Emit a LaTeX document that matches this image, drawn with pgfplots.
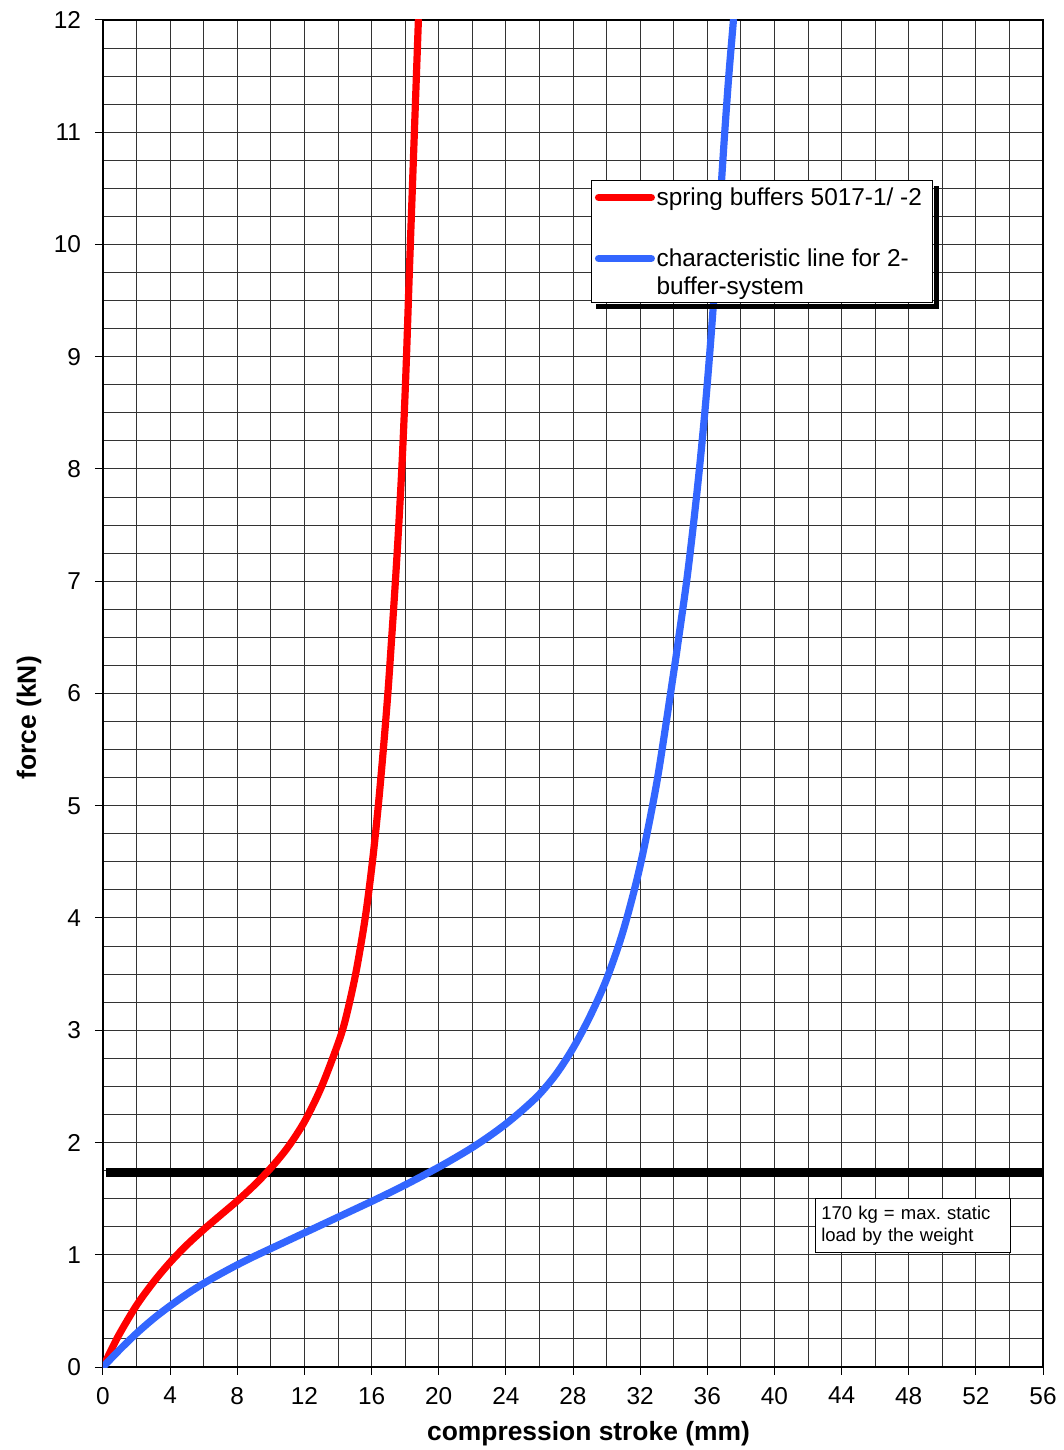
\documentclass[border=0pt]{standalone}
\usepackage{fontspec}
\setmainfont{Liberation Sans}
\usepackage{pgfplots}
\pgfplotsset{compat=1.18}
\definecolor{cred}{RGB}{255,0,0}
\definecolor{cblue}{RGB}{51,102,255}
\frenchspacing
\begin{document}
\begin{tikzpicture}
\begin{axis}[
  scale only axis,
  width=470pt, height=673.5pt,
  xmin=0, xmax=56, ymin=0, ymax=12,
  xtick={0,4,...,56}, ytick={0,1,...,12},
  minor x tick num=1, minor y tick num=3,
  grid=both,
  major grid style={black!80, line width=0.5pt},
  minor grid style={black!80, line width=0.5pt},
  axis line style={line width=1.1pt},
  tick align=outside,
  xtick pos=bottom, ytick pos=left,
  major tick length=4pt, minor tick length=0pt,
  tick style={black, line width=0.5pt},
  ticklabel style={font=\fontsize{12.2}{14}\selectfont},
  /pgf/number format/assume math mode=true,
  xticklabel style={yshift=-2.5pt},
  yticklabel style={xshift=-3.5pt},
  xlabel={compression stroke (mm)},
  ylabel={force (kN)},
  every axis x label/.style={at={(axis description cs:0.5165,-0.0542)}, anchor=base, font=\fontsize{13.2}{15}\selectfont\bfseries},
  every axis y label/.style={at={(axis description cs:-0.0713,0.482)}, anchor=base, rotate=90, font=\fontsize{13.2}{15}\selectfont\bfseries},
  legend style={name=leg, at={(rel axis cs:0.519,0.881)}, anchor=north west, draw=black, line width=0.5pt, fill=white,
    font=\fontsize{12.2}{14.6}\selectfont,
    inner xsep=1.8pt, inner ysep=0.5pt, row sep=17.5pt, column sep=0.8pt,
    nodes={inner sep=0pt, text depth=3.5pt}, cells={anchor=base west}},
  legend image code/.code={\draw[#1, line cap=round] (1.8pt,4.15pt) -- (28.2pt,4.15pt);},
]
\addplot[black, line width=4.5pt, forget plot] coordinates {(0.2,1.73) (56,1.73)};
\addplot[cred, line width=3.6pt, smooth, line cap=round] coordinates {
(0,0) (0.5,0.155) (1,0.30) (2,0.55) (3,0.755) (4,0.933) (5,1.088) (6,1.225) (7,1.353) (8,1.48)
(9,1.618) (10,1.773) (11,1.955) (12,2.185) (13,2.49) (14,2.88) (14.45,3.1) (15.05,3.5) (15.62,4.0)
(16.05,4.5) (16.4,5.0) (16.7,5.5) (16.97,6.0) (17.2,6.5) (17.42,7.0) (17.62,7.5) (17.8,8.0) (17.95,8.5)
(18.08,9.0) (18.25,9.75) (18.43,10.5) (18.61,11.25) (18.79,12.0)
};
\addlegendentry{spring buffers 5017-1/ -2\rule{0pt}{12pt}\rule{3.7pt}{0pt}}
\addplot[cblue, line width=3.6pt, smooth, line cap=round,
  legend image code/.code={\draw[cblue, line width=3.6pt, line cap=round] (1.8pt,18.15pt) -- (28.2pt,18.15pt);}] coordinates {
(0,0) (1,0.155) (2,0.30) (3,0.43) (4,0.545) (5,0.65) (6,0.745) (7,0.83) (8,0.91) (9,0.985) (10,1.055)
(11,1.125) (12,1.195) (13,1.265) (14,1.335) (15,1.405) (16,1.475) (17,1.547) (18,1.622) (19,1.70)
(20,1.78) (21,1.865) (22,1.955) (23,2.055) (24,2.165) (25,2.29) (26,2.43) (27,2.61) (28,2.84)
(29,3.12) (30,3.455) (31,3.89) (32,4.465) (33,5.215) (34,6.19) (34.3,6.5)
(34.77,7.0) (35.17,7.5) (35.53,8.0) (35.85,8.5) (36.13,9.0) (36.38,9.5) (36.6,10.0) (36.82,10.5)
(37.04,11.0) (37.28,11.5) (37.56,12.0)
};
\addlegendentry{\vbox{\baselineskip=14pt\lineskiplimit=-20pt\hbox{\rule{0pt}{9.5pt}characteristic line for 2-}\hbox{buffer-system}}}
\node[draw=black, line width=0.5pt, fill=white, anchor=north west, inner xsep=2.85pt, inner ysep=3.8pt,
  text width=92pt, align=left, font=\fontsize{9.25}{11}\selectfont] at (axis cs:42.42,1.508)
  {170 kg = max. static\\load by the weight};
\coordinate (sw) at (rel axis cs:0,0);
\coordinate (ne) at (rel axis cs:1,1);
\end{axis}
\fill[black] ([shift={(0.25pt,-2.75pt)}]leg.north east) rectangle ([shift={(3pt,-3pt)}]leg.south east);
\fill[black] ([shift={(2.75pt,-0.25pt)}]leg.south west) rectangle ([shift={(3pt,-3pt)}]leg.south east);
\pgfresetboundingbox
\path[use as bounding box] ([shift={(-51.5pt,-41.5pt)}]sw) rectangle ([shift={(10.5pt,10pt)}]ne);
\end{tikzpicture}
\end{document}
